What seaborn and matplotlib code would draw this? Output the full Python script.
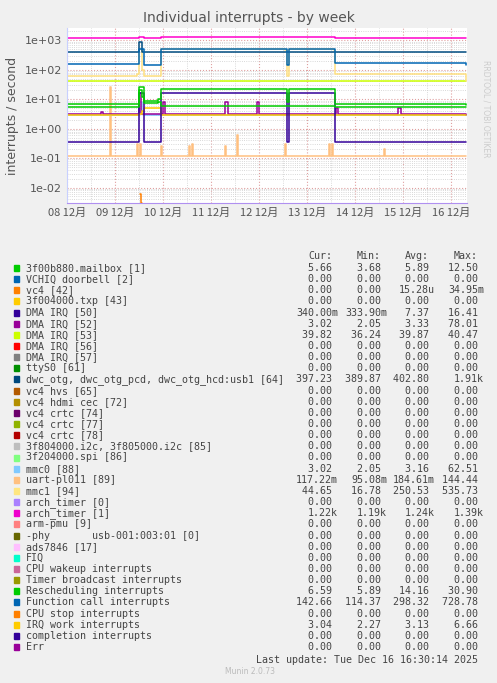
import matplotlib
matplotlib.use('Agg')
import numpy as np
import matplotlib.pyplot as plt
import seaborn as sns

sns.set_style('white')
plt.rcParams['font.family'] = ['DejaVu Sans']

# x positions in days from 08 Dec 00:00
day_labels = ['08 12月', '09 12月', '10 12月', '11 12月', '12 12月',
              '13 12月', '14 12月', '15 12月', '16 12月']

# series: (x in days, value), drawn as steps
t_main = [0, 1.45, 1.5, 1.56, 1.6, 1.9, 1.95, 4.55, 4.58, 4.62, 5.55, 5.58, 8.3]
arch_timer1 = [1150, 1150, 1250, 1250, 1150, 1150, 1250, 1250, 1250, 1250, 1250, 1150, 1150]
dwc_otg = [400, 400, 900, 400, 400, 400, 400, 400, 400, 400, 400, 400, 400]
func_call = [155, 160, 500, 500, 150, 150, 500, 500, 150, 500, 500, 170, 140]
mmc1 = [60, 70, 500, 100, 60, 60, 500, 480, 60, 500, 480, 70, 42]
dma53 = [40] * 13
resched = [7, 7, 26, 26, 9, 10, 23, 23, 8, 22, 22, 7, 6.5]
mailbox = [5.6, 5.6, 20, 12, 7.5, 8, 5.8, 5.8, 5.8, 5.8, 5.8, 5.6, 5.6]
dma50 = [0.34, 0.34, 16, 16, 0.34, 0.34, 16, 16, 0.34, 16, 16, 0.34, 0.34]
irq_work = [3.0, 3.0, 3.1, 4.0, 5.0, 5.0, 3.0, 3.0, 3.0, 3.0, 3.0, 3.0, 3.0]
mmc0 = [3.0, 3.0, 8.0, 4.0, 3.0, 3.0, 3.0, 3.0, 3.0, 3.0, 3.0, 3.0, 3.0]

t_dma52 = [0, 0.65, 0.7, 0.75, 1.5, 1.55, 2.0, 2.05, 3.3, 3.35, 3.95, 4.0, 5.6, 5.65, 6.9, 6.95, 8.3]
dma52 = [3.2, 3.2, 3.6, 3.2, 16, 3.2, 8, 3.2, 8, 3.2, 8, 3.2, 5, 3.2, 5, 3.2, 3.0]

t_uart = [0, 0.9, 0.92, 1.45, 1.47, 1.53, 1.55, 1.95, 1.97, 2.55, 2.57, 2.6, 2.62,
          3.3, 3.32, 3.55, 3.57, 4.55, 4.57, 5.45, 5.47, 5.52, 5.54, 6.6, 6.62, 8.3]
uart = [0.12, 25, 0.12, 0.3, 0.12, 0.3, 0.12, 0.25, 0.12, 0.25, 0.12, 0.3, 0.12,
        0.25, 0.12, 0.6, 0.12, 0.3, 0.12, 0.3, 0.12, 0.3, 0.12, 0.2, 0.12, 0.12]

t_vc4 = [1.52, 1.54, 1.56]
vc4 = [0.006, 0.003, 0.003]

fig = plt.figure(figsize=(4.97, 6.83), dpi=100, facecolor='#f0f0f0')
ax = fig.add_axes([67 / 497, 1 - 203 / 683, 400 / 497, 175 / 683])
ax.set_facecolor('white')

lines = [
    (t_uart, uart, '#ffc080'),
    (t_vc4, vc4, '#ff7f00'),
    (t_main, dma53, '#ccff00'),
    (t_main, mmc1, '#ffe080'),
    (t_main, mmc0, '#80c0ff'),
    (t_dma52, dma52, '#990099'),
    (t_main, irq_work, '#ffcc00'),
    (t_main, dma50, '#330099'),
    (t_main, mailbox, '#00cc00'),
    (t_main, resched, '#00cc00'),
    (t_main, dwc_otg, '#004c80'),
    (t_main, func_call, '#0066b3'),
    (t_main, arch_timer1, '#ff00cc'),
]
for xs, ys, col in lines:
    sns.lineplot(x=xs, y=ys, ax=ax, color=col, linewidth=1.1, estimator=None,
                 sort=False, drawstyle='steps-post')

ax.set_yscale('log')
ax.set_ylim(3e-3, 2.6e3)
ax.set_xlim(0, 8.33)
ax.set_xticks(range(9))
ax.set_xticklabels(day_labels, fontsize=8, color='#555555',
                   family=['Noto Sans CJK SC', 'DejaVu Sans'])
ax.set_xticks(np.arange(0, 8.33, 0.5), minor=True)
ax.set_yticks([1e-2, 1e-1, 1, 10, 100, 1000])
ax.set_yticklabels(['1e-02', '1e-01', '1e+00', '1e+01', '1e+02', '1e+03'], fontsize=8, color='#555555')
ax.tick_params(which='both', length=0)
ax.grid(which='major', color='#e0a0a0', linestyle=':', linewidth=0.8)
ax.grid(which='minor', color='#cccccc', linestyle=':', linewidth=0.6)
for s in ['top', 'right']:
    ax.spines[s].set_visible(False)
ax.spines['left'].set_color('#c8d0ff')
ax.spines['bottom'].set_color('#b090f0')
ax.set_ylabel('interrupts / second', fontsize=9, color='#555555')
fig.text(0.5, 1 - 18 / 683, 'Individual interrupts - by week', ha='center', va='center',
         fontsize=10, color='#555555')
fig.text(486 / 497, 1 - 60 / 683, 'RRDTOOL / TOBI OETIKER', rotation=270, ha='center',
         va='top', fontsize=5.5, color='#cccccc')

# legend table
names = ['3f00b880.mailbox [1]', 'VCHIQ doorbell [2]', 'vc4 [42]', '3f004000.txp [43]',
         'DMA IRQ [50]', 'DMA IRQ [52]', 'DMA IRQ [53]', 'DMA IRQ [56]', 'DMA IRQ [57]',
         'ttyS0 [61]', 'dwc_otg, dwc_otg_pcd, dwc_otg_hcd:usb1 [64]', 'vc4 hvs [65]',
         'vc4 hdmi cec [72]', 'vc4 crtc [74]', 'vc4 crtc [77]', 'vc4 crtc [78]',
         '3f804000.i2c, 3f805000.i2c [85]', '3f204000.spi [86]', 'mmc0 [88]',
         'uart-pl011 [89]', 'mmc1 [94]', 'arch_timer [0]', 'arch_timer [1]', 'arm-pmu [9]',
         '-phy       usb-001:003:01 [0]', 'ads7846 [17]', 'FIQ', 'CPU wakeup interrupts',
         'Timer broadcast interrupts', 'Rescheduling interrupts', 'Function call interrupts',
         'CPU stop interrupts', 'IRQ work interrupts', 'completion interrupts', 'Err']
colors = ['#00cc00', '#0066b3', '#ff8000', '#ffcc00', '#330099', '#990099', '#ccff00',
          '#ff0000', '#808080', '#008f00', '#00487d', '#b35a00', '#b38f00', '#6b006b',
          '#8fb300', '#b30000', '#bebebe', '#80ff80', '#80c9ff', '#ffc080', '#ffe680',
          '#aa80ff', '#ee00cc', '#ff8080', '#666600', '#ffbfff', '#00ffcc', '#cc6699',
          '#999900', '#00cc00', '#0066b3', '#ff8000', '#ffcc00', '#330099', '#990099']
cur = ['5.66', '0.00', '0.00', '0.00', '340.00m', '3.02', '39.82', '0.00', '0.00', '0.00',
       '397.23', '0.00', '0.00', '0.00', '0.00', '0.00', '0.00', '0.00', '3.02', '117.22m',
       '44.65', '0.00', '1.22k', '0.00', '0.00', '0.00', '0.00', '0.00', '0.00', '6.59',
       '142.66', '0.00', '3.04', '0.00', '0.00']
mins = ['3.68', '0.00', '0.00', '0.00', '333.90m', '2.05', '36.24', '0.00', '0.00', '0.00',
        '389.87', '0.00', '0.00', '0.00', '0.00', '0.00', '0.00', '0.00', '2.05', '95.08m',
        '16.78', '0.00', '1.19k', '0.00', '0.00', '0.00', '0.00', '0.00', '0.00', '5.89',
        '114.37', '0.00', '2.27', '0.00', '0.00']
avgs = ['5.89', '0.00', '15.28u', '0.00', '7.37', '3.33', '39.87', '0.00', '0.00', '0.00',
        '402.80', '0.00', '0.00', '0.00', '0.00', '0.00', '0.00', '0.00', '3.16', '184.61m',
        '250.53', '0.00', '1.24k', '0.00', '0.00', '0.00', '0.00', '0.00', '0.00', '14.16',
        '298.32', '0.00', '3.13', '0.00', '0.00']
maxs = ['12.50', '0.00', '34.95m', '0.00', '16.41', '78.01', '40.47', '0.00', '0.00', '0.00',
        '1.91k', '0.00', '0.00', '0.00', '0.00', '0.00', '0.00', '0.00', '62.51', '144.44',
        '535.73', '0.00', '1.39k', '0.00', '0.00', '0.00', '0.00', '0.00', '0.00', '30.90',
        '728.78', '0.00', '6.66', '0.00', '0.00']

mono = dict(family='DejaVu Sans Mono', fontsize=7.2, color='#444444', va='center')


def fmt(v):
    return v if v[-1].isalpha() else v + ' '


col_x = [338, 387, 435, 484]
fy = lambda py: 1 - py / 683
for cx, hdr in zip(col_x, ['Cur:', 'Min:', 'Avg:', 'Max:']):
    fig.text((cx - 6) / 497, fy(256), hdr, ha='right', **mono)
step = (647 - 268) / 34
for i, name in enumerate(names):
    py = 268 + i * step
    fig.patches.append(plt.Rectangle((14 / 497, fy(py + 3)), 5 / 497, 6 / 683,
                                     transform=fig.transFigure, color=colors[i]))
    fig.text(26 / 497, fy(py), name, ha='left', **mono)
    for cx, vals in zip(col_x, [cur, mins, avgs, maxs]):
        fig.text(cx / 497, fy(py), fmt(vals[i]), ha='right', **mono)
fig.text(484 / 497, fy(660), 'Last update: Tue Dec 16 16:30:14 2025 ', ha='right', **mono)
fig.text(250 / 497, fy(672), 'Munin 2.0.73', ha='center', va='center', fontsize=5.5, color='#bbbbbb')

fig.savefig('out.png', dpi=100, facecolor=fig.get_facecolor())
